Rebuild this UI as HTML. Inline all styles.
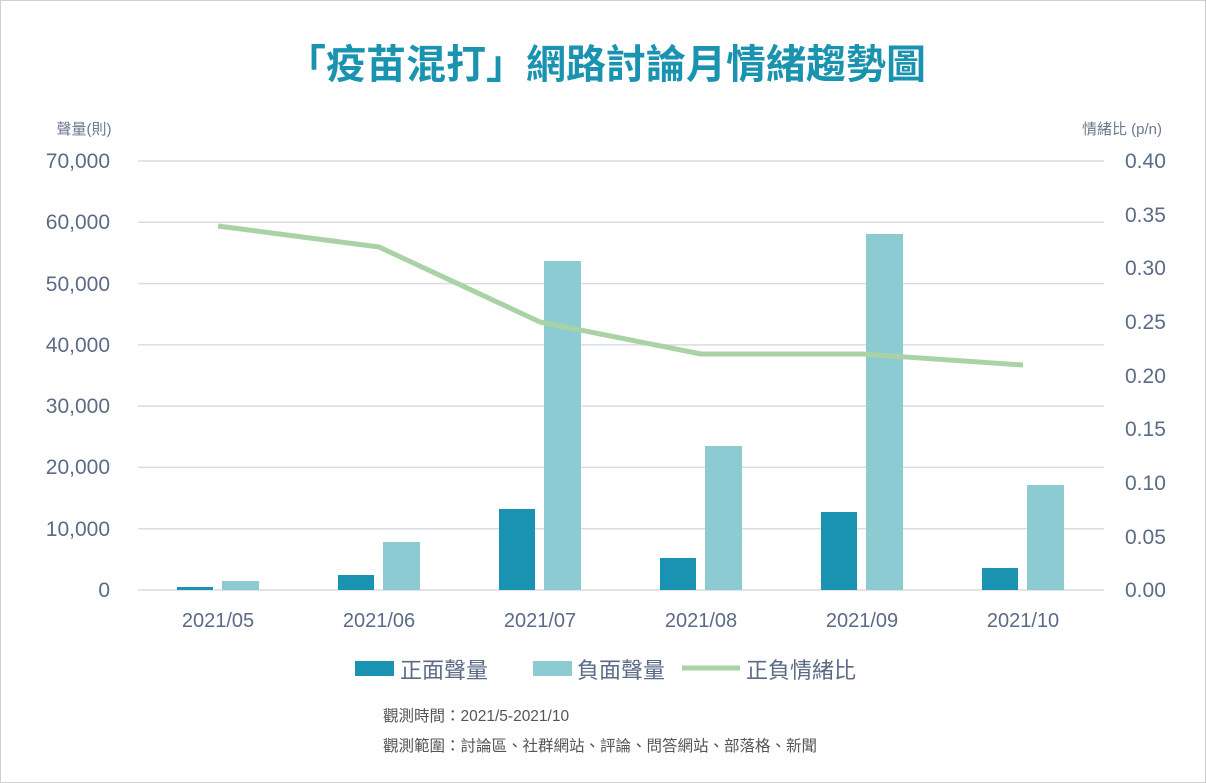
<!DOCTYPE html>
<html><head><meta charset="utf-8"><style>
html,body{margin:0;padding:0;background:#fff}
svg{display:block}
text{font-family:"Liberation Sans","Noto Sans CJK TC",sans-serif}
</style></head><body>
<svg width="1206" height="783" viewBox="0 0 1206 783">
<rect x="0.5" y="0.5" width="1205" height="782" fill="#fff" stroke="#d0d0d0"/>
<text x="606" y="78" text-anchor="middle" font-size="40" font-weight="bold" fill="#1a93b0">「疫苗混打」網路討論月情緒趨勢圖</text>
<text x="84" y="134" text-anchor="middle" font-size="15" fill="#6b7a90">聲量(則)</text>
<text x="1122" y="134" text-anchor="middle" font-size="15" fill="#6b7a90">情緒比 (p/n)</text>
<g stroke="#d9dce3" stroke-width="1.5">
<line x1="138" x2="1104" y1="161" y2="161"/><line x1="138" x2="1104" y1="222.3" y2="222.3"/>
<line x1="138" x2="1104" y1="283.6" y2="283.6"/><line x1="138" x2="1104" y1="344.9" y2="344.9"/>
<line x1="138" x2="1104" y1="406.1" y2="406.1"/><line x1="138" x2="1104" y1="467.4" y2="467.4"/>
<line x1="138" x2="1104" y1="528.7" y2="528.7"/><line x1="138" x2="1104" y1="590" y2="590"/>
</g>
<g font-size="21" fill="#5c6b85" text-anchor="end">
<text x="110" y="168">70,000</text><text x="110" y="229">60,000</text><text x="110" y="291">50,000</text>
<text x="110" y="352">40,000</text><text x="110" y="413">30,000</text><text x="110" y="474">20,000</text>
<text x="110" y="536">10,000</text><text x="110" y="597">0</text>
</g>
<g font-size="21" fill="#5c6b85">
<text x="1125" y="168">0.40</text><text x="1125" y="222">0.35</text><text x="1125" y="275">0.30</text>
<text x="1125" y="329">0.25</text><text x="1125" y="383">0.20</text><text x="1125" y="436">0.15</text>
<text x="1125" y="490">0.10</text><text x="1125" y="544">0.05</text><text x="1125" y="597">0.00</text>
</g>
<g fill="#1a93b3">
<rect x="177" y="587" width="36" height="3"/><rect x="338" y="575" width="36" height="15"/>
<rect x="499" y="509" width="36" height="81"/><rect x="660" y="558" width="36" height="32"/>
<rect x="821" y="512" width="36" height="78"/><rect x="982" y="568" width="36" height="22"/>
</g>
<g fill="#8ccbd1">
<rect x="222" y="581" width="37" height="9"/><rect x="383" y="542" width="37" height="48"/>
<rect x="544" y="261" width="37" height="329"/><rect x="705" y="446" width="37" height="144"/>
<rect x="866" y="234" width="37" height="356"/><rect x="1027" y="485" width="37" height="105"/>
</g>
<polyline points="218,226 379,247 540,322 701,354 862,354 1023,365" fill="none" stroke="#a9d3a5" stroke-width="5" stroke-linejoin="round"/>
<g font-size="20" fill="#5c6b85" text-anchor="middle">
<text x="218" y="627">2021/05</text><text x="379" y="627">2021/06</text><text x="540" y="627">2021/07</text>
<text x="701" y="627">2021/08</text><text x="862" y="627">2021/09</text><text x="1023" y="627">2021/10</text>
</g>
<rect x="355" y="661" width="39" height="15" fill="#1a93b3"/>
<text x="400" y="678" font-size="22" fill="#5c6b85">正面聲量</text>
<rect x="533" y="661" width="39" height="15" fill="#8ccbd1"/>
<text x="577" y="678" font-size="22" fill="#5c6b85">負面聲量</text>
<line x1="682" x2="740" y1="668" y2="668" stroke="#a9d3a5" stroke-width="5"/>
<text x="746" y="678" font-size="22" fill="#5c6b85">正負情緒比</text>
<text x="383" y="721" font-size="15.5" fill="#555">觀測時間：2021/5-2021/10</text>
<text x="383" y="751" font-size="15.5" fill="#555">觀測範圍：討論區、社群網站、評論、問答網站、部落格、新聞</text>
</svg>
</body></html>
